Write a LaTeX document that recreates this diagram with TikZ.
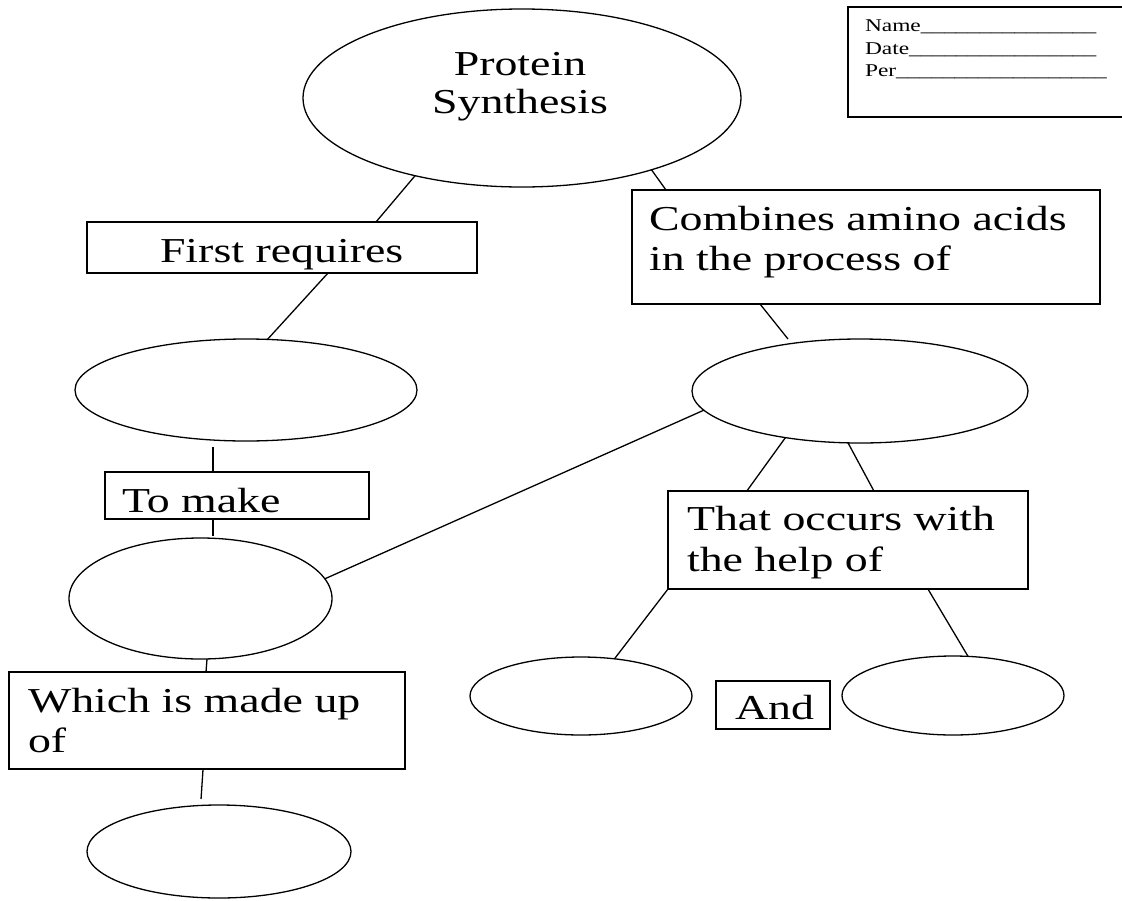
\documentclass[tikz,border=0pt]{standalone}
\usepackage{fontspec}
\setmainfont{Liberation Serif}[FakeStretch=1.31]
\newfontfamily\namefont{Liberation Serif}[FakeStretch=1.3]
\usetikzlibrary{shapes.geometric,calc}
\begin{document}
\begin{tikzpicture}[x=1pt,y=-1pt,
  every node/.style={inner sep=0pt, outer sep=0pt},
  oval/.style={draw, ellipse, line width=1.3pt},
  box/.style={draw, rectangle, line width=1.3pt, anchor=north west},
  lbl/.style={anchor=base west, font=\fontsize{35}{40}\selectfont},
  small/.style={anchor=base west, font=\namefont\fontsize{18}{22}\selectfont},
  link/.style={line width=1.3pt}]
\useasboundingbox (0,0) rectangle (1122,900);

% name box
\node[box, minimum width=300pt, minimum height=110pt] (nb) at (848,7) {};
\node[small] (n1) at (865,31) {Name\_\_\_\_\_\_\_\_\_\_\_\_\_\_\_};
\node[small] (n2) at (865,54) {Date\_\_\_\_\_\_\_\_\_\_\_\_\_\_\_\_};
\node[small] (n3) at (865,76) {Per\_\_\_\_\_\_\_\_\_\_\_\_\_\_\_\_\_\_};

% ellipses
\node[oval, minimum width=438pt, minimum height=178pt] (ps) at (522,98) {};
\node[oval, minimum width=342pt, minimum height=102pt] (e2) at (246,390) {};
\node[oval, minimum width=336pt, minimum height=104pt] (e3) at (860,391) {};
\node[oval, minimum width=263pt, minimum height=121pt] (e4) at (200.5,598.5) {};
\node[oval, minimum width=264pt, minimum height=93pt] (e5) at (219,851.5) {};
\node[oval, minimum width=222pt, minimum height=78pt] (e6) at (581,696) {};
\node[oval, minimum width=222pt, minimum height=79pt] (e7) at (953,695.5) {};

% boxes
\node[box, minimum width=390pt, minimum height=51pt] (fr) at (87,222) {};
\node[box, minimum width=468pt, minimum height=114pt] (cb) at (632,190) {};
\node[box, minimum width=264pt, minimum height=47pt] (tm) at (105,472) {};
\node[box, minimum width=396pt, minimum height=97pt] (wm) at (9,672) {};
\node[box, minimum width=360pt, minimum height=98pt] (to) at (668,491) {};
\node[box, minimum width=114pt, minimum height=48pt] (an) at (716,681) {};

% texts
\node[lbl, anchor=base] (t1) at (520,75) {Protein};
\node[lbl, anchor=base] (t2) at (520,113) {Synthesis};
\node[lbl] (t3) at (160,262) {First requires};
\node[lbl] (t4) at (649,230) {Combines amino acids};
\node[lbl] (t5) at (649,270) {in the process of};
\node[lbl] (t6) at (122,512) {To make};
\node[lbl] (t7) at (687,530) {That occurs with};
\node[lbl] (t8) at (687,571) {the help of};
\node[lbl] (t9) at (28,712) {Which is made up};
\node[lbl] (t10) at (28,752) {of};
\node[lbl] (t11) at (735,719) {And};

% connectors
\draw[link] (ps.216.6) -- ($(fr.north west)!0.741!(fr.north east)$);
\draw[link] (ps.331) -- ($(cb.north west)!0.0726!(cb.north east)$);
\draw[link] ($(fr.south west)!0.618!(fr.south east)$) -- (e2.67.5);
\draw[link] ($(tm.north west)!0.409!(tm.north east)$) -- ++(0,-25);
\draw[link] ($(tm.south west)!0.409!(tm.south east)$) -- ++(0,17);
\draw[link] ($(wm.north west)!0.4975!(wm.north east)$) -- ++(1,-13);
\draw[link] ($(wm.south west)!0.49!(wm.south east)$) -- ++(-2,30);
\draw[link] ($(cb.south west)!0.2735!(cb.south east)$) -- ++(28,35);
\draw[link] (e3.187.4) -- (e4.9.6);
\draw[link] (e3.212.7) -- ($(to.north west)!0.219!(to.north east)$);
\draw[link] (e3.257) -- ($(to.north west)!0.572!(to.north east)$);
\draw[link] (to.south west) -- (e6.48.4);
\draw[link] ($(to.south west)!0.722!(to.south east)$) -- (e7.69);
\end{tikzpicture}
\end{document}
